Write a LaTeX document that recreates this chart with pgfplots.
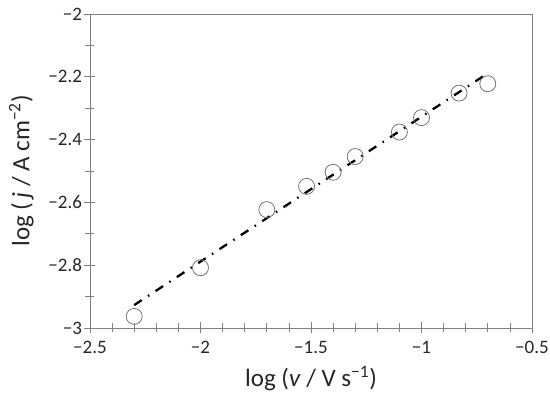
\documentclass[border=0pt]{standalone}
\usepackage{pgfplots}
\pgfplotsset{compat=1.18}
\usepackage{fontspec}
\setmainfont{Carlito}
\begin{document}
\begin{tikzpicture}[x=1pt,y=1pt]
\path[use as bounding box] (0,0) rectangle (550,401);
\begin{axis}[
  at={(90pt,73pt)}, anchor=south west,
  scale only axis, width=442pt, height=314pt,
  xmin=-2.5, xmax=-0.5, ymin=-3, ymax=-2,
  axis line style={draw=black!50, line width=0.8pt},
  xtick={-2.5,-2,-1.5,-1,-0.5},
  xticklabels={−2.5,−2,−1.5,−1,−0.5},
  minor xtick={-2.4,-2.3,-2.2,-2.1,-1.9,-1.8,-1.7,-1.6,-1.4,-1.3,-1.2,-1.1,-0.9,-0.8,-0.7,-0.6},
  ytick={-3,-2.8,-2.6,-2.4,-2.2,-2},
  yticklabels={−3,−2.8,−2.6,−2.4,−2.2,−2},
  minor ytick={-2.9,-2.7,-2.5,-2.3,-2.1},
  tick align=center,
  major tick length=11pt, minor tick length=9pt,
  xtick pos=bottom, ytick pos=left,
  every tick/.style={draw=black!50, line width=0.7pt},
  tick label style={font=\fontsize{19}{21}\selectfont, text=black!85},
  xticklabel style={yshift=-4pt},
  yticklabel style={xshift=1pt},
  xlabel={log (\textit{v} / V s\textsuperscript{−1})},
  ylabel={log (\,\textit{j} / A cm\textsuperscript{−2})},
  label style={font=\fontsize{25}{28}\selectfont, text=black!85},
  xlabel style={yshift=-6pt},
  ylabel style={yshift=8pt},
  clip=false,
]
\addplot[only marks, mark=o, mark size=8pt, mark options={draw=black!55, line width=0.8pt, fill=none}]
  coordinates {
  (-2.30,-2.963) (-2.00,-2.808) (-1.70,-2.623) (-1.52,-2.549) (-1.40,-2.504)
  (-1.30,-2.454) (-1.10,-2.376) (-1.00,-2.330) (-0.83,-2.252) (-0.70,-2.222)
  };
\addplot[black, line width=2.3pt, dash pattern=on 9pt off 7.5pt on 1.5pt off 7.5pt]
  coordinates {(-2.30,-2.927) (-0.72,-2.198)};
\end{axis}
\end{tikzpicture}
\end{document}
